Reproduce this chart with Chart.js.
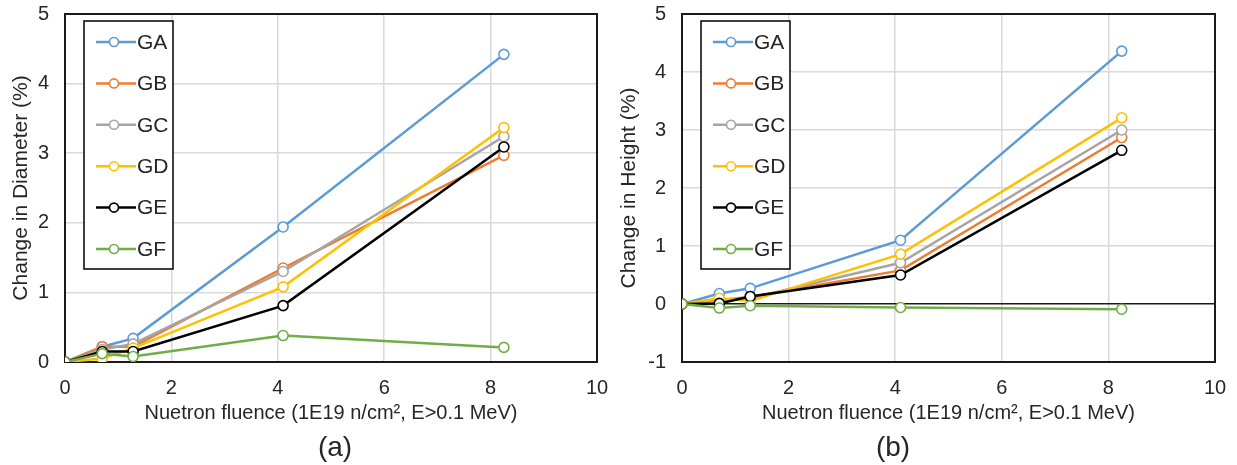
<!DOCTYPE html>
<html>
<head>
<meta charset="utf-8">
<script src="https://cdn.jsdelivr.net/npm/chart.js@4/dist/chart.umd.min.js"></script>
<style>
    body { margin: 0; background: #fff; }
    canvas { position: absolute; top: 0; }
</style>
</head>
<body>
<canvas id="diameterChart" width="625" height="465" style="left:0"></canvas>
<canvas id="heightChart" width="632" height="465" style="left:605px"></canvas>
<script>
// fluence points (1E19 n/cm2)
const fluence = [0, 0.7, 1.28, 4.1, 8.25];
const seriesNames = ['GA', 'GB', 'GC', 'GD', 'GE', 'GF'];

// change in diameter (%)
const diameterGA = [0, 0.22, 0.34, 1.94, 4.42];
const diameterGB = [0, 0.22, 0.22, 1.35, 2.97];
const diameterGC = [0, 0.18, 0.26, 1.30, 3.24];
const diameterGD = [0, 0.05, 0.20, 1.08, 3.37];
const diameterGE = [0, 0.15, 0.15, 0.81, 3.09];
const diameterGF = [0, 0.12, 0.08, 0.38, 0.21];

// change in height (%)
const heightGA = [0, 0.18, 0.27, 1.10, 4.36];
const heightGB = [0, 0.07, 0.12, 0.58, 2.87];
const heightGC = [0, 0.05, 0.10, 0.71, 3.00];
const heightGD = [0, 0.10, 0.05, 0.86, 3.21];
const heightGE = [0, 0.01, 0.13, 0.50, 2.65];
const heightGF = [0, -0.07, -0.03, -0.06, -0.09];

const xTicks = [0, 2, 4, 6, 8, 10];

const colors = ['#5B9BD5', '#ED7D31', '#A5A5A5', '#FFC000', '#000000', '#70AD47'];
const textColor = '#262626';
const fontFamily = '"Liberation Sans", Arial, sans-serif';

function makeDatasets(seriesList) {
    return seriesList.map((values, i) => ({
        label: seriesNames[i],
        data: values.map((v, j) => ({ x: fluence[j], y: v })),
        borderColor: colors[i],
        backgroundColor: '#ffffff',
        pointBackgroundColor: '#ffffff',
        pointBorderColor: colors[i],
        pointRadius: 5,
        pointBorderWidth: 1.6,
        borderWidth: 2.5,
        order: seriesList.length - i
    }));
}

// no extra room for tick labels, the layout padding decides
function noPadding(s) {
    s.paddingTop = 0;
    s.paddingBottom = 0;
    s.paddingLeft = 0;
    s.paddingRight = 0;
}

// black frame round the plot area
const frameBox = {
    id: 'frameBox',
    beforeDatasetsDraw(chart) {
        const { ctx, chartArea: a } = chart;
        ctx.save();
        ctx.strokeStyle = '#1a1a1a';
        ctx.lineWidth = 2;
        ctx.strokeRect(a.left, a.top, a.right - a.left, a.bottom - a.top);
        ctx.restore();
    }
};

// legend drawn inside the plot, with a box
const boxLegend = {
    id: 'boxLegend',
    afterDraw(chart, args, opts) {
        const { ctx, chartArea: a } = chart;
        const left = a.left + opts.dx;
        const top = a.top + opts.dy;
        ctx.save();
        ctx.fillStyle = '#ffffff';
        ctx.fillRect(left, top, opts.width, opts.height);
        ctx.strokeStyle = '#000000';
        ctx.lineWidth = 1.5;
        ctx.strokeRect(left, top, opts.width, opts.height);
        chart.data.datasets.forEach((ds, i) => {
            const y = top + opts.firstRow + i * opts.rowGap;
            ctx.strokeStyle = ds.borderColor;
            ctx.lineWidth = 2.5;
            ctx.beginPath();
            ctx.moveTo(left + 12, y);
            ctx.lineTo(left + 52, y);
            ctx.stroke();
            ctx.beginPath();
            ctx.fillStyle = '#ffffff';
            ctx.lineWidth = 1.6;
            ctx.arc(left + 30, y, 4.5, 0, Math.PI * 2);
            ctx.fill();
            ctx.stroke();
            ctx.fillStyle = textColor;
            ctx.font = '21px ' + fontFamily;
            ctx.textBaseline = 'middle';
            ctx.fillText(ds.label, left + 53, y + 1);
        });
        ctx.restore();
    }
};

// panel caption under the axis title
const caption = {
    id: 'caption',
    afterDraw(chart, args, opts) {
        const { ctx, chartArea: a } = chart;
        ctx.save();
        ctx.fillStyle = textColor;
        ctx.font = '28px ' + fontFamily;
        ctx.textAlign = 'center';
        ctx.textBaseline = 'middle';
        ctx.fillText(opts.text, (a.left + a.right) / 2 + opts.dx, opts.y);
        ctx.restore();
    }
};

function makeOptions(cfg) {
    return {
        responsive: false,
        animation: false,
        layout: { autoPadding: false, padding: { top: 14, right: cfg.padRight, left: 0, bottom: 0 } },
        plugins: {
            legend: { display: false },
            tooltip: { enabled: false },
            boxLegend: { dx: 19, dy: 7, width: 89, height: 248, firstRow: 21, rowGap: 41.4 },
            caption: { text: cfg.caption, dx: cfg.captionDx, y: 448 }
        },
        scales: {
            x: {
                type: 'linear',
                min: 0,
                max: 10,
                afterFit: (s) => { s.height = 103; noPadding(s); },
                afterBuildTicks: (s) => { s.ticks = xTicks.map(v => ({ value: v })); },
                grid: { color: '#d9d9d9', lineWidth: 1.5, drawTicks: false },
                border: { display: false },
                ticks: { font: { size: 20, family: fontFamily }, color: textColor, padding: 14, maxRotation: 0 },
                title: {
                    display: true,
                    text: 'Nuetron fluence (1E19 n/cm², E>0.1 MeV)',
                    font: { size: 20, family: fontFamily, lineHeight: 1.2 },
                    color: textColor,
                    padding: { top: 0, bottom: 39.5 }
                }
            },
            y: {
                min: cfg.yMin,
                max: 5,
                afterFit: (s) => { s.width = cfg.yWidth; noPadding(s); },
                grid: {
                    color: (c) => c.tick && c.tick.value === 0 ? '#1a1a1a' : '#d9d9d9',
                    lineWidth: 1.5,
                    drawTicks: false
                },
                border: { display: false },
                ticks: { stepSize: 1, font: { size: 20, family: fontFamily }, color: textColor, padding: 16 },
                title: {
                    display: true,
                    text: cfg.yTitle,
                    font: { size: 21, family: fontFamily, lineHeight: 1.2 },
                    color: textColor,
                    padding: { top: cfg.yTitlePad, bottom: 0 }
                }
            }
        }
    };
}

new Chart(document.getElementById('diameterChart'), {
    type: 'line',
    data: {
        datasets: makeDatasets([diameterGA, diameterGB, diameterGC, diameterGD, diameterGE, diameterGF])
    },
    options: makeOptions({
        yMin: 0, yWidth: 65, padRight: 28, yTitle: 'Change in Diameter (%)', yTitlePad: 8.5,
        caption: '(a)', captionDx: 4
    }),
    plugins: [frameBox, boxLegend, caption]
});

new Chart(document.getElementById('heightChart'), {
    type: 'line',
    data: {
        datasets: makeDatasets([heightGA, heightGB, heightGC, heightGD, heightGE, heightGF])
    },
    options: makeOptions({
        yMin: -1, yWidth: 77, padRight: 22, yTitle: 'Change in Height (%)', yTitlePad: 12,
        caption: '(b)', captionDx: -55.5
    }),
    plugins: [frameBox, boxLegend, caption]
});
</script>
</body>
</html>
